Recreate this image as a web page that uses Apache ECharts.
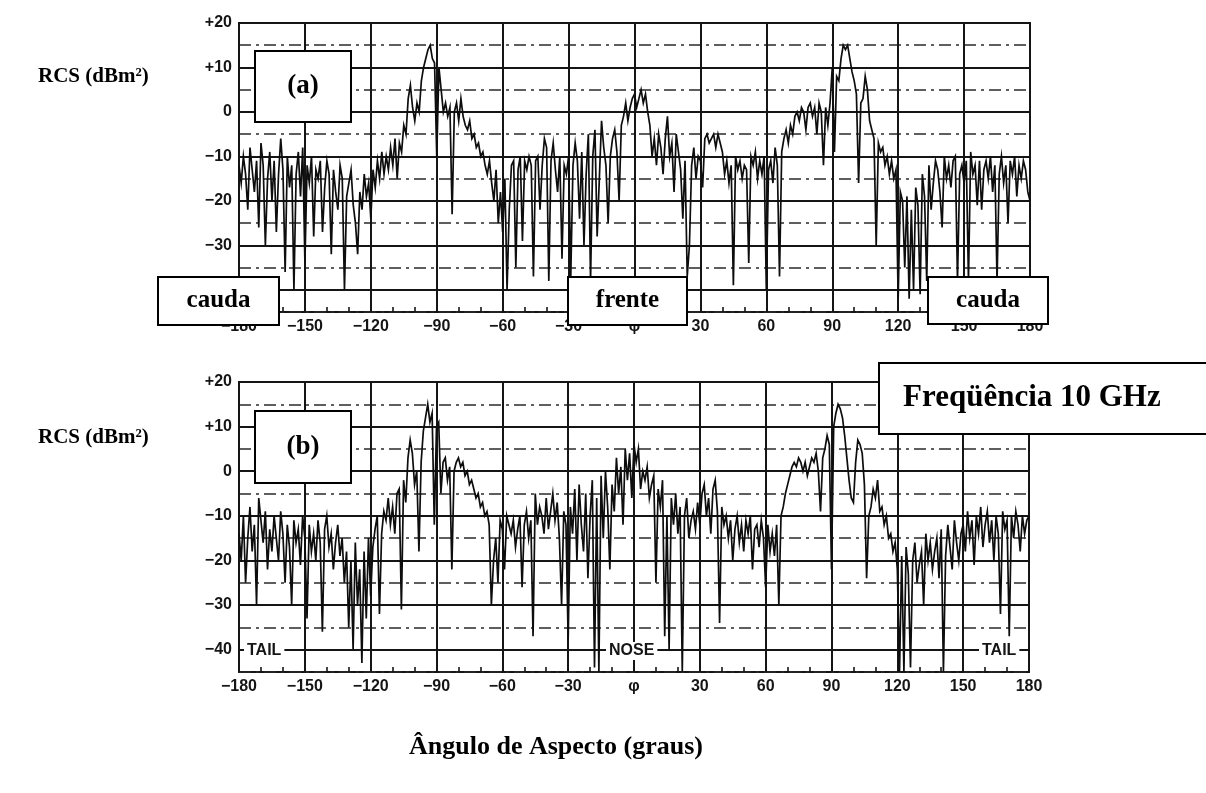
<!DOCTYPE html>
<html>
<head>
<meta charset="utf-8">
<script src="https://cdn.jsdelivr.net/npm/echarts@6/dist/echarts.min.js"></script>
<style>
  html, body { margin: 0; padding: 0; background: #fff; }
  #chart { width: 1206px; height: 793px; }
</style>
</head>
<body>
<div id="chart"></div>
<script>
// Aspect angle sampling, one reading per degree
const angleStart = -180;
const angleEnd = 180;

// Tick values for both panels
const angleTicks = [-180, -150, -120, -90, -60, -30, 0, 30, 60, 90, 120, 150, 180];
const rcsTicks = [20, 10, 0, -10, -20, -30, -40];

// Panel (a): RCS in dBm², -180° .. +180°
const rcsA = [
  -12, -16, -10, -14, -22, -8, -13, -18, -11, -26,
  -7, -12, -30, -15, -9, -20, -11, -27, -14, -6,
  -13, -36, -10, -17, -12, -40, -14, -9, -19, -8,
  -34, -12, -16, -10, -28, -13, -15, -11, -27, -17,
  -11, -14, -32, -13, -18, -22, -12, -15, -40, -19,
  -16, -13, -21, -25, -32, -18, -22, -14, -19, -16,
  -24, -13, -17, -11, -15, -9, -14, -10, -13, -8,
  -12, -6, -15, -7, -9, -3, -5, 3, 6, 1,
  -2, 2, 0, 7, 10, 12, 14, 15, 12, 11,
  -10, 10, 5, 0, 2, -1, 1, -23, 0, 2,
  -2, 3, -1, -3, -4, -2, -6, -5, -8, -7,
  -10, -9, -12, -14, -11, -16, -20, -13, -25, -18,
  -27, -15, -40, -22, -12, -11, -35, -13, -10, -29,
  -11, -13, -10, -12, -37, -11, -10, -22, -12, -6,
  -8, -38, -11, -7, -13, -18, -10, -33, -12, -14,
  -10, -37, -12, -7, -11, -24, -9, -30, -14, -5,
  -38, -10, -4, -28, -15, -2, -8, -12, -25, -10,
  -6, -4, -9, -20, -3, -1, 2, -2, 1, 3,
  4, 1, 3, 5, 2, 4, 0, -3, -10, -6,
  -12, -5, -8, -14, -6, -1, -10, -7, -18, -5,
  -9, -13, -24, -11, -37, -30, -12, -8, -15, -10,
  -11, -17, -6, -5, -7, -6, -5, -8, -5, -7,
  -9, -14, -11, -16, -12, -39, -10, -13, -11, -15,
  -12, -13, -34, -10, -12, -9, -15, -11, -14, -10,
  -40, -13, -11, -16, -8, -12, -37, -9, -6, -4,
  -7, -3, -5, -1, 0, -2, 1, 0, -4, 1,
  2, -1, 1, -5, 2, 0, -12, 1, -3, 2,
  10, -9, 8, 7, 12, 15, 14, 15, 12, 9,
  7, 4, -16, 2, 3, 8, 5, -2, -4, -6,
  -30, -7, -9, -8, -12, -10, -14, -11, -15, -13,
  -42, -18, -20, -35, -19, -42, -22, -40, -17, -21,
  -41, -14, -19, -38, -12, -22, -16, -11, -13, -18,
  -26, -10, -15, -12, -17, -11, -10, -38, -14, -12,
  -16, -11, -38, -9, -14, -12, -21, -11, -22, -13,
  -11, -15, -10, -18, -12, -38, -14, -10, -16, -12,
  -25, -11, -14, -10, -19, -12, -15, -11, -13, -18, -20
];

// Panel (b): RCS in dBm², -180° .. +180°
const rcsB = [
  -14, -20, -10, -25, -15, -8, -18, -12, -30, -6,
  -11, -16, -9, -22, -13, -18, -10, -15, -20, -9,
  -14, -25, -12, -17, -30, -11, -16, -13, -21, -10,
  -15, -33, -12, -18, -14, -20, -11, -16, -36, -13,
  -10, -17, -14, -22, -16, -12, -19, -15, -25, -18,
  -35, -20, -40, -16, -30, -22, -43, -18, -33, -15,
  -28, -17, -13, -10, -32, -14, -9, -11, -6, -12,
  -8, -14, -5, -4, -31, -2, -7, 3, 7, 4,
  -3, 0, -18, 2, 9, 12, 15, 11, 13, -12,
  10, 11, -5, 2, 3, -2, 1, -22, 0, 2,
  3, 1, 2, -1, 0, -3, -2, -4, -6, -5,
  -8, -7, -10, -9, -12, -30, -20, -15, -25, -11,
  -13, -22, -10, -12, -14, -11, -17, -13, -10, -26,
  -12, -9, -15, -11, -37, -5, -12, -8, -10, -14,
  -6, -13, -9, -5, -11, -7, -15, -30, -9, -12,
  -38, -8, -14, -4, -20, -3, -12, -18, -5, -24,
  -10, -2, -44, -6, -45, -1, -15, 0, -8, -22,
  -3, -9, 3, -5, 1, -12, 5, -2, 4, -6,
  6, 2, 5, -4, 0, -2, 1, -6, -3, -1,
  -25, -4, -8, -2, -37, -10, -40, -6, -12, -5,
  -14, -8, -45, -10, -6, -15, -11, -9, -13, -7,
  -12, -5, -3, -10, -6, -14, -4, -2, -9, -34,
  -8, -12, -10, -15, -11, -20, -13, -10, -16, -12,
  -18, -11, -14, -10, -22, -13, -12, -17, -11, -15,
  -26, -12, -18, -14, -19, -12, -30, -10, -8, -5,
  -3, -1, 1, 2, 1, 3, 2, 0, 2, -1,
  1, 3, 2, 4, 0, -9, 3, 5, 8, 6,
  -22, 10, 13, 15, 14, 12, 8, 3, -2, -6,
  -7, 2, 7, 6, 4, -3, -24, -10, -8, -4,
  -6, -2, -9, -8, -12, -10, -15, -14, -18, -16,
  -22, -45, -19, -45, -17, -23, -44, -20, -16, -25,
  -21, -18, -30, -14, -20, -16, -22, -18, -15, -24,
  -13, -45, -19, -12, -17, -22, -11, -16, -20, -14,
  -12, -18, -9, -15, -11, -21, -10, -14, -8, -17,
  -12, -9, -16, -11, -20, -10, -14, -32, -9, -13,
  -11, -37, -10, -15, -9, -12, -18, -10, -14, -11, -10
];

const INK = '#151515';
const serif = '"Liberation Serif", "Times New Roman", serif';
const sans = '"Liberation Sans", Arial, sans-serif';

function pairs(values) {
  const out = [];
  for (let i = 0; i < values.length; i++) out.push([angleStart + i, values[i]]);
  return out;
}

function angleLabel(v) {
  if (angleTicks.indexOf(v) < 0) return '';
  if (v === 0) return 'φ';
  return v < 0 ? '\u2212' + (-v) : String(v);
}
function rcsLabel(v) {
  if (rcsTicks.indexOf(v) < 0) return '';
  if (v > 0) return '+' + v;
  return v < 0 ? '\u2212' + (-v) : '0';
}

const yMin = -45, yMax = 20;
const tickFont = { color: INK, fontFamily: sans, fontWeight: 'bold', fontSize: 16 };

function xAxisFor(gridIndex) {
  return {
    type: 'value', gridIndex, position: 'bottom', min: angleStart, max: angleEnd, interval: 30,
    axisLine: { show: false, onZero: false },
    axisTick: { show: true, inside: true, length: 1, lineStyle: { color: INK, width: 1 } },
    minorTick: { show: true, splitNumber: 3, length: 5, lineStyle: { color: INK, width: 1.6 } },
    splitLine: { show: true, lineStyle: { color: INK, width: 2 } },
    axisLabel: Object.assign({ formatter: angleLabel, margin: 7 }, tickFont)
  };
}
// dashed half-decade lines (ticks at -45, -35, ... from min)
function yDashed(gridIndex) {
  return {
    type: 'value', gridIndex, position: 'left', min: yMin, max: yMax, interval: 10,
    axisLine: { show: false, onZero: false }, axisTick: { show: false }, axisLabel: { show: false },
    splitLine: { show: true, lineStyle: { color: '#2a2a2a', width: 1.6, type: [12, 5, 3, 5] } }
  };
}
// solid decade lines and labels
function ySolid(gridIndex) {
  return {
    type: 'value', gridIndex, position: 'left', min: yMin, max: yMax, interval: 5,
    axisLine: { show: false, onZero: false }, axisTick: { show: false },
    axisLabel: Object.assign({ formatter: rcsLabel, margin: 7 }, tickFont),
    splitLine: { show: true, lineStyle: { color: ['rgba(0,0,0,0)', INK], width: 2 } }
  };
}

function box(x, y, w, h, text, size) {
  return {
    type: 'group', z: 100,
    children: [
      { type: 'rect', z: 100, shape: { x, y, width: w, height: h },
        style: { fill: '#fff', stroke: '#000', lineWidth: 2 } },
      { type: 'text', z: 101, x: x + w / 2, y: y + h / 2,
        style: { text, fill: '#000', font: 'bold ' + size + 'px ' + serif, textAlign: 'center', textVerticalAlign: 'middle' } }
    ]
  };
}
function tag(x, y, text) {
  return { type: 'text', z: 50, x, y,
    style: { text, fill: INK, font: 'bold 16px ' + sans, textAlign: 'left', textVerticalAlign: 'middle',
      backgroundColor: '#fff', padding: [1, 3, 1, 3] } };
}

const traceStyle = { color: '#0d0d0d', width: 1.7, join: 'miter' };

const chart = echarts.init(document.getElementById('chart'), null, { renderer: 'canvas' });
chart.setOption({
  animation: false,
  backgroundColor: '#fff',
  grid: [
    { left: 239, top: 23, width: 791, height: 289, show: true, borderColor: INK, borderWidth: 2, backgroundColor: 'transparent' },
    { left: 239, top: 382, width: 790, height: 290, show: true, borderColor: INK, borderWidth: 2, backgroundColor: 'transparent' }
  ],
  xAxis: [xAxisFor(0), xAxisFor(1)],
  yAxis: [yDashed(0), ySolid(0), yDashed(1), ySolid(1)],
  series: [
    { type: 'line', xAxisIndex: 0, yAxisIndex: 0, data: pairs(rcsA), showSymbol: false,
      lineStyle: traceStyle, z: 5 },
    { type: 'line', xAxisIndex: 1, yAxisIndex: 2, data: pairs(rcsB), showSymbol: false,
      lineStyle: traceStyle, z: 5 }
  ],
  graphic: [
    { type: 'text', x: 38, y: 77, style: { text: 'RCS (dBm²)', fill: '#000', font: 'bold 21px ' + serif, textVerticalAlign: 'middle' } },
    { type: 'text', x: 38, y: 438, style: { text: 'RCS (dBm²)', fill: '#000', font: 'bold 21px ' + serif, textVerticalAlign: 'middle' } },
    box(255, 51, 96, 71, '(a)', 27),
    box(255, 411, 96, 72, '(b)', 27),
    box(158, 277, 121, 48, 'cauda', 25),
    box(568, 277, 119, 48, 'frente', 25),
    box(928, 277, 120, 47, 'cauda', 25),
    { type: 'group', z: 100, children: [
      { type: 'rect', z: 100, shape: { x: 879, y: 363, width: 340, height: 71 },
        style: { fill: '#fff', stroke: '#000', lineWidth: 2 } },
      { type: 'text', z: 101, x: 903, y: 398,
        style: { text: 'Freqüência 10 GHz', fill: '#000', font: 'bold 31px ' + serif, textVerticalAlign: 'middle' } }
    ] },
    tag(244, 651, 'TAIL'),
    tag(606, 651, 'NOSE'),
    tag(979, 651, 'TAIL'),
    { type: 'text', x: 556, y: 747,
      style: { text: 'Ângulo de Aspecto (graus)', fill: '#000', font: 'bold 26px ' + serif, textAlign: 'center', textVerticalAlign: 'middle' } }
  ]
});
</script>
</body>
</html>
